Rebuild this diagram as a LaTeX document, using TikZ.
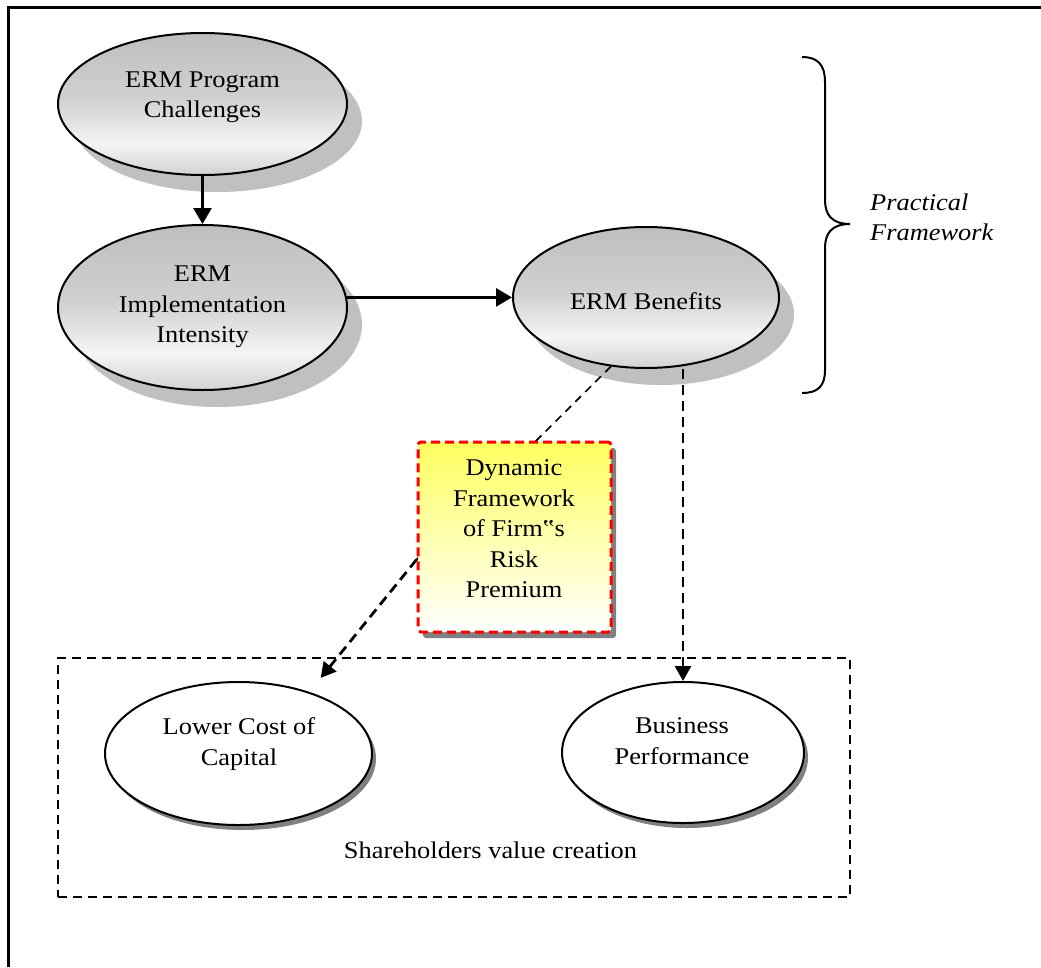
\documentclass[tikz,border=0pt]{standalone}
\usepackage{fontspec}
\setmainfont{Liberation Serif}[FakeStretch=1.1]
\usetikzlibrary{arrows.meta,shadows,shapes.geometric}

% greys of the shaded ellipses
\definecolor{elltop}{HTML}{BEBEBE}
\definecolor{ellmid}{HTML}{D0D0D0}
\definecolor{elllight}{HTML}{F4F4F4}
\definecolor{ellbot}{HTML}{D2D2D2}
\definecolor{softshadow}{HTML}{C0C0C0}
\definecolor{hardshadow}{HTML}{808080}
\definecolor{notetop}{RGB}{255,255,96}
\definecolor{noteborder}{RGB}{255,0,0}

% vertical grey shading: darker top, light band low down
\pgfdeclareverticalshading{ermshade}{100bp}{%
  color(0bp)=(ellbot); color(25bp)=(ellbot); color(36bp)=(elllight);
  color(52bp)=(ellmid); color(75bp)=(elltop); color(100bp)=(elltop)}

\pgfdeclarelayer{front}
\pgfsetlayers{main,front}

\begin{document}
\begin{tikzpicture}[x=1pt,y=-1pt,
  txt/.style={font=\fontsize{24}{30.5}\selectfont, align=center, inner sep=0pt},
  bigell/.style={ellipse, draw, line width=2pt, shading=ermshade, inner sep=0pt,
    drop shadow={shadow xshift=15pt, shadow yshift=-17pt, fill=softshadow, opacity=1}},
  plainell/.style={ellipse, draw, line width=2pt, fill=white, inner sep=0pt,
    drop shadow={shadow xshift=4pt, shadow yshift=-5pt, fill=hardshadow, opacity=1}},
  notebox/.style={rectangle, draw=noteborder, line width=3pt, dash pattern=on 9pt off 5pt,
    rounded corners=3pt, inner sep=0pt, top color=notetop, bottom color=white,
    drop shadow={shadow xshift=5pt, shadow yshift=-6pt, fill=hardshadow, opacity=1}},
  groupbox/.style={rectangle, draw, line width=2.2pt, dash pattern=on 9pt off 6pt, inner sep=0pt},
  arr/.style={line width=2.6pt, -{Triangle[length=16pt,width=18pt]}},
  dasharr/.style={line width=2.8pt, dash pattern=on 10pt off 6pt, -{Triangle[length=15pt,width=16pt]}},
  thindash/.style={line width=1.7pt, dash pattern=on 8pt off 6pt}
]
\useasboundingbox (0,0) rectangle (1041,967);
\fill[white] (0,0) rectangle (1041,967);

% page frame (top and left edges)
\draw[line width=3pt] (8.7,967) -- (8.7,7.3) -- (1041,7.3);

% group of outcomes
\node[groupbox, minimum width=792pt, minimum height=239pt] (grp) at (454,777.5) {};
\node[txt, anchor=base] (grpt) at (490.5,858) {Shareholders value creation};

% practical framework ellipses
\node[bigell, minimum width=289pt, minimum height=142pt] (chal) at (202.5,104) {};
\node[txt] (chalt) at (202.5,97) {ERM Program\\Challenges};

\node[bigell, minimum width=289pt, minimum height=165pt] (imp) at (202.5,307.5) {};
\node[txt] (impt) at (202.5,307.2) {ERM\\Implementation\\Intensity};

\node[bigell, minimum width=266pt, minimum height=141pt] (ben) at (646,297.5) {};
\node[txt] (bent) at (646,300.8) {ERM Benefits};

% outcome ellipses
\node[plainell, minimum width=267pt, minimum height=143pt] (lc) at (238.5,753.5) {};
\node[txt] (lct) at (239,743.9) {Lower Cost of\\Capital};

\node[plainell, minimum width=242pt, minimum height=141pt] (bp) at (683,752.5) {};
\node[txt] (bpt) at (682,741) {Business\\Performance};

% risk premium note, kept above the connector passing behind it
\begin{pgfonlayer}{front}
\node[notebox, minimum width=193pt, minimum height=190pt] (frm) at (514.5,537) {};
\node[txt] (frmt) at (514,528.8) {Dynamic\\Framework\\of Firm‟s\\Risk\\Premium};
\end{pgfonlayer}

% brace and its label
\draw[line width=2pt] (802,57) .. controls (818,57) and (825,65) .. (825,82)
  -- (825,200) .. controls (825,215) and (832,224) .. (850,224)
  .. controls (832,224) and (825,233) .. (825,248)
  -- (825,370) .. controls (825,386) and (818,393) .. (802,393);
\node[txt, font={\fontsize{24}{30}\selectfont\itshape}, align=left, anchor=west]
  (pft) at (870,216.8) {Practical\\Framework};

% connectors
\draw[arr] (chal.south) -- (imp.north);
\draw[arr] (imp.4) -- (imp.4 -| ben.west);
\draw[thindash] (ben.243) -- (frm.193);
\draw[dasharr, shorten >=18pt] (frm.193) -- (lc.41);
\draw[dasharr] (ben.south -| bp.north) -- (bp.north);
\end{tikzpicture}
\end{document}
